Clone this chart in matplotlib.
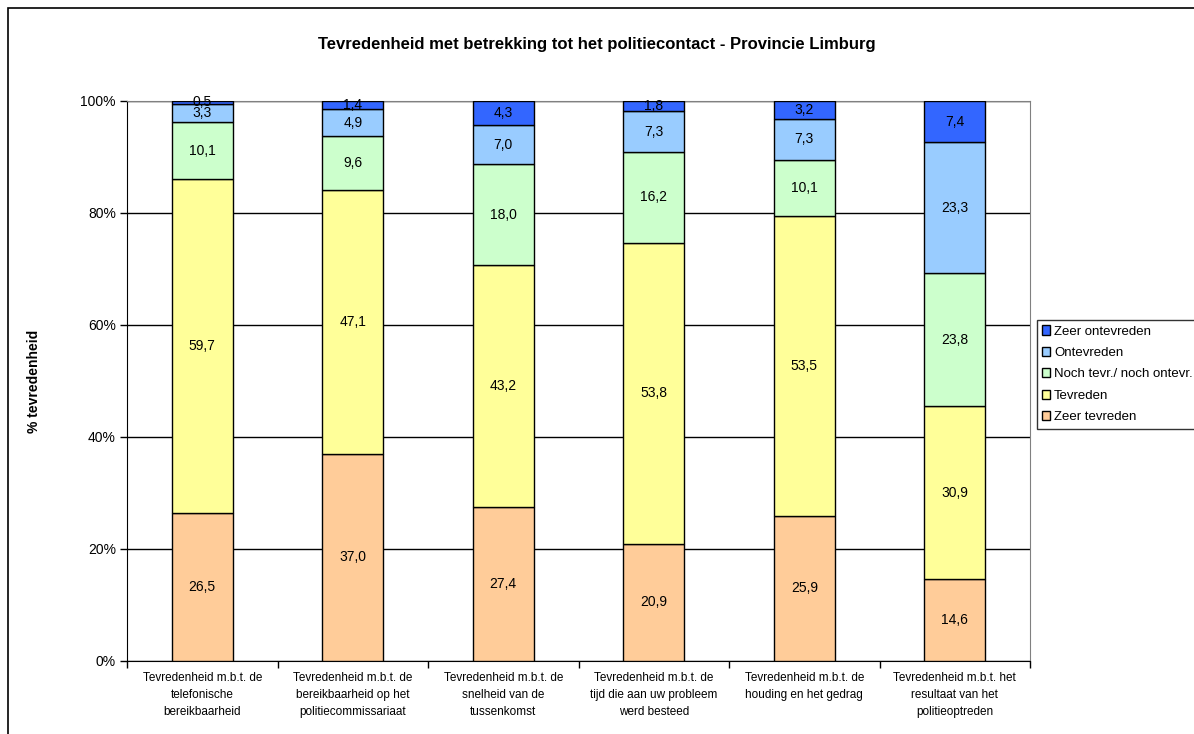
import matplotlib
matplotlib.use("Agg")
import matplotlib.pyplot as plt
import numpy as np
from matplotlib.patches import Rectangle

plt.rcParams['font.family'] = ['Liberation Sans', 'DejaVu Sans']

categories = [
    "Tevredenheid m.b.t. de\ntelefonische\nbereikbaarheid",
    "Tevredenheid m.b.t. de\nbereikbaarheid op het\npolitiecommissariaat",
    "Tevredenheid m.b.t. de\nsnelheid van de\ntussenkomst",
    "Tevredenheid m.b.t. de\ntijd die aan uw probleem\nwerd besteed",
    "Tevredenheid m.b.t. de\nhouding en het gedrag",
    "Tevredenheid m.b.t. het\nresultaat van het\npolitieoptreden",
]
series_names = ["Zeer tevreden", "Tevreden", "Noch tevr./ noch ontevr.", "Ontevreden", "Zeer ontevreden"]
zeer_tevreden = [26.5, 37.0, 27.4, 20.9, 25.9, 14.6]
tevreden = [59.7, 47.1, 43.2, 53.8, 53.5, 30.9]
noch = [10.1, 9.6, 18.0, 16.2, 10.1, 23.8]
ontevreden = [3.3, 4.9, 7.0, 7.3, 7.3, 23.3]
zeer_ontevreden = [0.5, 1.4, 4.3, 1.8, 3.2, 7.4]
colors = ["#FFCC99", "#FFFF99", "#CCFFCC", "#99CCFF", "#3366FF"]

data = np.array([zeer_tevreden, tevreden, noch, ontevreden, zeer_ontevreden])
totals = data.sum(axis=0)
pct = data / totals * 100

fig = plt.figure(figsize=(11.94, 7.34), dpi=100)
fig.patches.append(Rectangle((8/1194, -0.05), 1.1, 1.05 - 8/734, transform=fig.transFigure,
                             fill=False, edgecolor='black', linewidth=1.2))
ax = fig.add_axes([127/1194, 1 - 661/734, (1030-127)/1194, (661-101)/734])

x = np.arange(len(categories))
bottom = np.zeros(len(categories))
handles = []
for i, name in enumerate(series_names):
    b = ax.bar(x, pct[i], bottom=bottom, width=0.405, color=colors[i], edgecolor='black',
               linewidth=1.0, label=name, zorder=3)
    handles.append(b)
    for j in range(len(categories)):
        yc = bottom[j] + pct[i][j] / 2
        ax.text(x[j], yc, f"{data[i][j]:.1f}".replace('.', ','), ha='center', va='center',
                fontsize=10, zorder=4)
    bottom += pct[i]

ax.set_xlim(-0.5, len(categories) - 0.5)
ax.set_ylim(0, 100)
ax.set_yticks([0, 20, 40, 60, 80, 100])
ax.set_yticklabels(["0%", "20%", "40%", "60%", "80%", "100%"], fontsize=10)
ax.yaxis.grid(True, color='black', linewidth=1.0, zorder=0)
ax.set_axisbelow(True)
ax.set_xticks(x)
ax.set_xticklabels(categories, fontsize=8.5, linespacing=1.55)
ax.tick_params(axis='x', length=0, pad=8)
ax.set_xticks(np.arange(-0.5, len(categories)), minor=True)
ax.tick_params(axis='x', which='minor', length=5, width=1, direction='out')
ax.tick_params(axis='y', length=5, width=1, direction='out', pad=3)
for s in ['top', 'right']:
    ax.spines[s].set_color('#808080')
ax.spines['left'].set_color('black')
ax.spines['bottom'].set_color('black')
ax.set_ylabel("% tevredenheid", fontsize=10, fontweight='bold', labelpad=28)

fig.text(0.5, 1 - 45/734, "Tevredenheid met betrekking tot het politiecontact - Provincie Limburg",
         ha='center', va='center', fontsize=12, fontweight='bold')

leg = fig.legend(handles[::-1], series_names[::-1], loc='upper left',
                 bbox_to_anchor=(1037/1194, 1 - 320/734), fontsize=9.5, frameon=True,
                 fancybox=False, edgecolor='black', handlelength=0.6, handleheight=0.7,
                 handletextpad=0.3, borderpad=0.4, labelspacing=0.7, borderaxespad=0)
leg.get_frame().set_linewidth(1.0)

fig.savefig("out.png", dpi=100)
